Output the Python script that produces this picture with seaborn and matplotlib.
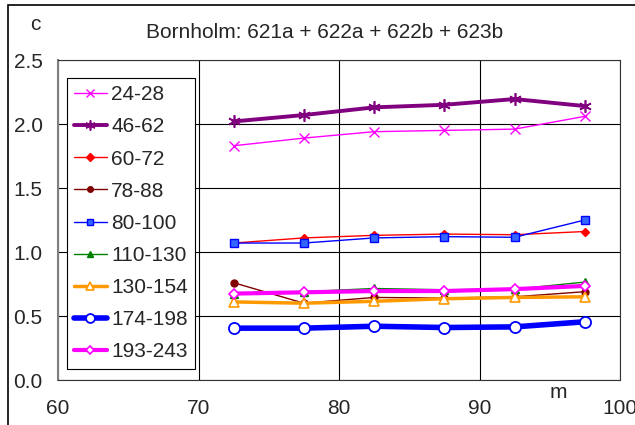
import numpy as np
import pandas as pd
import matplotlib
matplotlib.use("Agg")
import matplotlib.pyplot as plt
import seaborn as sns
from matplotlib.patches import Rectangle

# ==============================
# DATA
# ==============================

m = [72.5, 77.5, 82.5, 87.5, 92.5, 97.5]

c_24_28 = [1.83, 1.89, 1.94, 1.95, 1.96, 2.06]
c_46_62 = [2.02, 2.07, 2.13, 2.15, 2.195, 2.14]
c_60_72 = [1.07, 1.11, 1.13, 1.14, 1.135, 1.16]
c_78_88 = [0.76, 0.60, 0.645, 0.64, 0.65, 0.69]
c_80_100 = [1.07, 1.07, 1.11, 1.12, 1.115, 1.25]
c_110_130 = [0.675, 0.69, 0.715, 0.705, 0.71, 0.765]
c_130_154 = [0.61, 0.60, 0.615, 0.635, 0.645, 0.65]
c_174_198 = [0.405, 0.405, 0.42, 0.41, 0.415, 0.455]
c_193_243 = [0.675, 0.685, 0.695, 0.695, 0.71, 0.735]

labels = ["24-28", "46-62", "60-72", "78-88", "80-100",
          "110-130", "130-154", "174-198", "193-243"]
series = [c_24_28, c_46_62, c_60_72, c_78_88, c_80_100,
          c_110_130, c_130_154, c_174_198, c_193_243]

# line / marker styles per series
styles = [
    dict(color="#FF00FF", lw=1.0, marker="x", ms=7.5, mfc="#FF00FF", mec="#FF00FF", mew=1.0),
    dict(color="#800080", lw=2.8, marker=(6, 2, 0), ms=9, mfc="#800080", mec="#800080", mew=1.2),
    dict(color="#FF0000", lw=1.0, marker="D", ms=4.5, mfc="#FF0000", mec="#FF0000", mew=1.0),
    dict(color="#800000", lw=1.0, marker="o", ms=5, mfc="#800000", mec="#800000", mew=1.0),
    dict(color="#0000FF", lw=1.0, marker="s", ms=5.5, mfc="#3366FF", mec="#0000FF", mew=1.0),
    dict(color="#008000", lw=1.0, marker="^", ms=5.5, mfc="#008000", mec="#008000", mew=1.0),
    dict(color="#FF9900", lw=2.5, marker="^", ms=7.5, mfc="white", mec="#FF9900", mew=1.2),
    dict(color="#0000FF", lw=4.0, marker="o", ms=8, mfc="white", mec="#0000FF", mew=1.3),
    dict(color="#FF00FF", lw=3.0, marker="D", ms=5.5, mfc="white", mec="#FF00FF", mew=1.2),
]

FS = 15

# ==============================
# PLOT
# ==============================

sns.set_style("white")
plt.rcParams["font.family"] = ["Liberation Sans", "DejaVu Sans"]

fig = plt.figure(figsize=(6.35, 4.25), dpi=100)
ax = fig.add_axes([58 / 635, 45 / 425, 562 / 635, 320 / 425])

for lab, vals, st in zip(labels, series, styles):
    sns.lineplot(
        x=m,
        y=vals,
        ax=ax,
        label=lab,
        color=st["color"],
        linewidth=st["lw"],
        marker=st["marker"],
        markersize=st["ms"],
        markerfacecolor=st["mfc"],
        markeredgecolor=st["mec"],
        markeredgewidth=st["mew"],
        sort=False,
    )

ax.set_xlim(60, 100)
ax.set_ylim(0, 2.5)
ax.set_xticks([60, 70, 80, 90, 100])
ax.set_yticks([0, 0.5, 1.0, 1.5, 2.0, 2.5])
ax.set_yticklabels(["0.0", "0.5", "1.0", "1.5", "2.0", "2.5"])
ax.grid(True, color="#000000", linewidth=0.8)
ax.set_axisbelow(True)

ax.tick_params(axis="both", which="major", direction="out", length=6,
               width=0.8, color="#000000", labelsize=FS)
ax.tick_params(axis="y", pad=5)
ax.tick_params(axis="x", pad=8)

for side in ["top", "right", "bottom"]:
    ax.spines[side].set_color("#333333")
    ax.spines[side].set_linewidth(0.8)
ax.spines["left"].set_color("#808080")
ax.spines["left"].set_linewidth(1.5)

ax.set_xlabel("")
ax.set_ylabel("")

# axis captions and title
fig.text(35 / 635, 1 - 24 / 425, "c", fontsize=FS, ha="center", va="center")
fig.text(558 / 635, 1 - 393 / 425, "m", fontsize=FS, ha="center", va="center")
fig.text(325 / 635, 1 - 32 / 425, "Bornholm: 621a + 622a + 622b + 623b",
         fontsize=FS, ha="center", va="center")

leg = ax.legend(
    loc="upper left",
    bbox_to_anchor=(9 / 562, 302 / 320),
    borderaxespad=0,
    fontsize=FS,
    frameon=True,
    fancybox=False,
    edgecolor="#000000",
    framealpha=1,
    handlelength=1.55,
    handletextpad=0.22,
    labelspacing=0.63,
    borderpad=0.35,
    markerscale=0.8,
)
leg.get_frame().set_linewidth(0.8)

# outer chart border
fig.patches.append(Rectangle((8 / 635, -0.1), 1.2, 1 - 5 / 425 + 0.1,
                             transform=fig.transFigure, fill=False,
                             edgecolor="#000000", linewidth=1.2))

fig.savefig("out.png", dpi=100)
